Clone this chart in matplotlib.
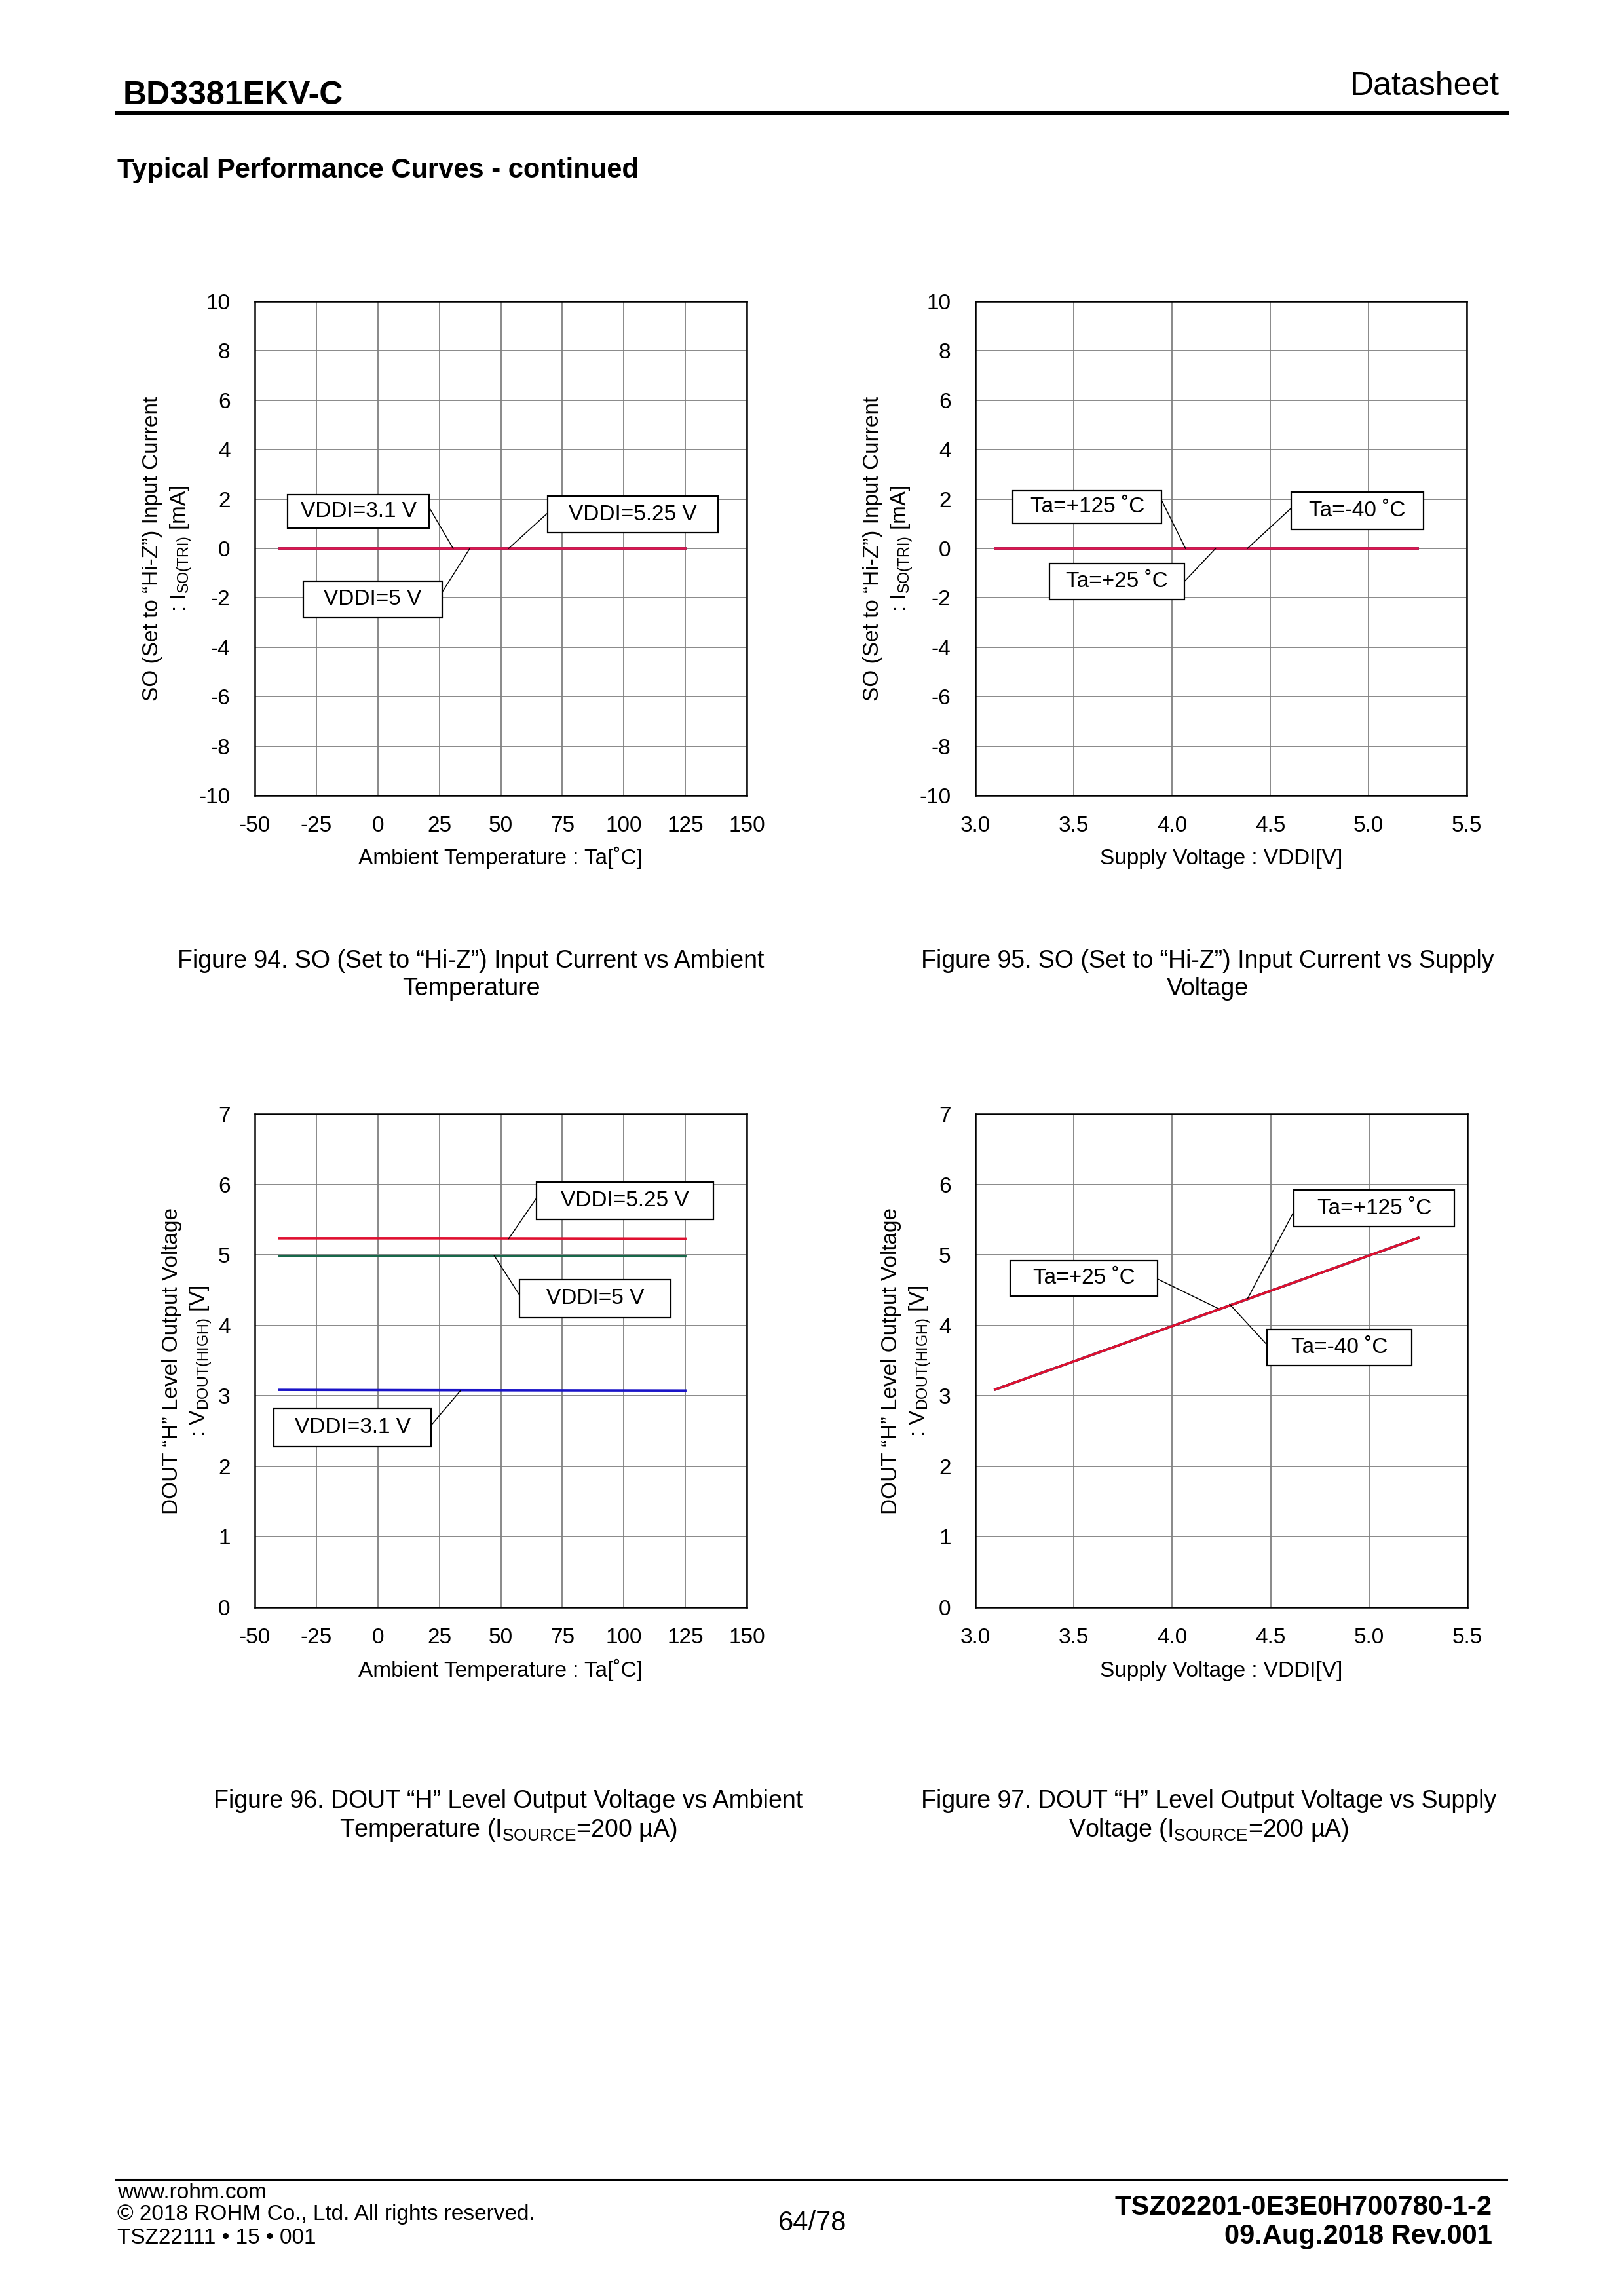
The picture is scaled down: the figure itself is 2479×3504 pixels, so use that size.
import matplotlib
matplotlib.use('Agg')
import matplotlib.pyplot as plt
from matplotlib.patches import Rectangle
from matplotlib.lines import Line2D
from matplotlib.ticker import FormatStrFormatter

plt.rcParams['font.family'] = ['Liberation Sans', 'DejaVu Sans']
plt.rcParams['axes.unicode_minus'] = False

W, H = 2479, 3504

# Figure 94: SO input current vs ambient temperature
ta = [-40, 25, 125]
iso_ta_31 = [0.0, 0.0, 0.0]
iso_ta_50 = [0.0, 0.0, 0.0]
iso_ta_525 = [0.0, 0.0, 0.0]

# Figure 95: SO input current vs supply voltage
vddi = [3.1, 3.5, 4.0, 4.5, 5.0, 5.25]
iso_v_m40 = [0.0, 0.0, 0.0, 0.0, 0.0, 0.0]
iso_v_25 = [0.0, 0.0, 0.0, 0.0, 0.0, 0.0]
iso_v_125 = [0.0, 0.0, 0.0, 0.0, 0.0, 0.0]

# Figure 96: DOUT "H" output voltage vs ambient temperature
vout_ta_31 = [3.085, 3.080, 3.075]
vout_ta_50 = [4.985, 4.985, 4.980]
vout_ta_525 = [5.235, 5.235, 5.230]

# Figure 97: DOUT "H" output voltage vs supply voltage
vout_v_m40 = [3.09, 3.49, 3.99, 4.49, 4.99, 5.24]
vout_v_25 = [3.09, 3.49, 3.99, 4.49, 4.99, 5.24]
vout_v_125 = [3.09, 3.49, 3.99, 4.49, 4.99, 5.24]

ta_ticks = [-50, -25, 0, 25, 50, 75, 100, 125, 150]
v_ticks = [3.0, 3.5, 4.0, 4.5, 5.0, 5.5]

RED = '#e01030'
PINK = '#e3134f'
GREEN = '#17684a'
BLUE = '#1a14c8'

fig = plt.figure(figsize=(W / 100, H / 100), dpi=100)


def fy(y):
    return 1 - y / H


def put(x, y, s, **kw):
    fig.text(x / W, fy(y), s, **kw)


def make_ax(x0, y0, x1, y1):
    ax = fig.add_axes([x0 / W, 1 - y1 / H, (x1 - x0) / W, (y1 - y0) / H])
    ax.grid(True, color='#808080', lw=1.3)
    ax.set_axisbelow(True)
    for s in ax.spines.values():
        s.set_linewidth(1.8)
        s.set_color('black')
    ax.tick_params(length=0, labelsize=24)
    ax.tick_params(axis='y', pad=27)
    ax.tick_params(axis='x', pad=22)
    return ax


def box(ax, label, x0, x1, y0, y1, leader):
    ax.add_patch(Rectangle((x0, y0), x1 - x0, y1 - y0, fc='white', ec='black', lw=1.6, zorder=5))
    ax.text((x0 + x1) / 2, (y0 + y1) / 2, label, ha='center', va='center', fontsize=24, zorder=6)
    (lx0, ly0), (lx1, ly1) = leader
    ax.plot([lx0, lx1], [ly0, ly1], color='black', lw=1.1, zorder=4)


# ---- header ----
put(188, 159, 'BD3381EKV-C', fontsize=36, fontweight='bold', va='baseline')
put(2289, 145, 'Datasheet', fontsize=36, ha='right', va='baseline')
fig.add_artist(Line2D([177 / W, 2300 / W], [fy(172)] * 2, lw=3.6, color='black'))
put(179, 271, 'Typical Performance Curves - continued', fontsize=30, fontweight='bold', va='baseline')

# ---- Figure 94 ----
ax1 = make_ax(389, 460, 1140, 1214)
ax1.plot(ta, iso_ta_31, color=BLUE, lw=2.6)
ax1.plot(ta, iso_ta_50, color=GREEN, lw=2.6)
ax1.plot(ta, iso_ta_525, color=PINK, lw=2.6)
ax1.set_xlim(-50, 150)
ax1.set_ylim(-10, 10)
ax1.set_xticks(ta_ticks)
ax1.set_yticks(range(-10, 11, 2))
box(ax1, 'VDDI=3.1 V', -36.6, 20.8, 0.82, 2.18, [(20.8, 1.67), (30.6, 0)])
box(ax1, 'VDDI=5.25 V', 69.0, 138.3, 0.63, 2.12, [(69.0, 1.43), (53.2, 0)])
box(ax1, 'VDDI=5 V', -30.3, 26.1, -2.78, -1.32, [(26.1, -1.78), (37.4, 0)])

# ---- Figure 95 ----
ax2 = make_ax(1489, 460, 2239, 1214)
ax2.plot(vddi, iso_v_m40, color=BLUE, lw=2.6)
ax2.plot(vddi, iso_v_25, color=GREEN, lw=2.6)
ax2.plot(vddi, iso_v_125, color=PINK, lw=2.6)
ax2.set_xlim(3.0, 5.5)
ax2.set_ylim(-10, 10)
ax2.set_xticks(v_ticks)
ax2.xaxis.set_major_formatter(FormatStrFormatter('%.1f'))
ax2.set_yticks(range(-10, 11, 2))
box(ax2, 'Ta=+125 ˚C', 3.191, 3.948, 1.01, 2.34, [(3.948, 1.94), (4.069, 0)])
box(ax2, 'Ta=-40 ˚C', 4.605, 5.281, 0.78, 2.27, [(4.605, 1.62), (4.384, 0)])
box(ax2, 'Ta=+25 ˚C', 3.378, 4.063, -2.06, -0.61, [(4.063, -1.34), (4.222, 0)])

# ---- Figure 96 ----
ax3 = make_ax(389, 1700, 1140, 2453)
ax3.plot(ta, vout_ta_31, color=BLUE, lw=2.6)
ax3.plot(ta, vout_ta_50, color=GREEN, lw=2.6)
ax3.plot(ta, vout_ta_525, color=RED, lw=2.6)
ax3.set_xlim(-50, 150)
ax3.set_ylim(0, 7)
ax3.set_xticks(ta_ticks)
ax3.set_yticks(range(0, 8))
box(ax3, 'VDDI=5.25 V', 64.6, 136.4, 5.50, 6.03, [(64.6, 5.81), (53.2, 5.23)])
box(ax3, 'VDDI=5 V', 57.6, 119.1, 4.11, 4.65, [(57.6, 4.43), (47.3, 4.99)])
box(ax3, 'VDDI=3.1 V', -42.2, 21.6, 2.28, 2.82, [(21.6, 2.58), (33.5, 3.07)])

# ---- Figure 97 ----
ax4 = make_ax(1489, 1700, 2240, 2453)
ax4.plot(vddi, vout_v_m40, color=BLUE, lw=2.6)
ax4.plot(vddi, vout_v_25, color=GREEN, lw=2.6)
ax4.plot(vddi, vout_v_125, color=RED, lw=2.6)
ax4.set_xlim(3.0, 5.5)
ax4.set_ylim(0, 7)
ax4.set_xticks(v_ticks)
ax4.xaxis.set_major_formatter(FormatStrFormatter('%.1f'))
ax4.set_yticks(range(0, 8))
box(ax4, 'Ta=+125 ˚C', 4.619, 5.434, 5.40, 5.92, [(4.619, 5.62), (4.383, 4.38)])
box(ax4, 'Ta=+25 ˚C', 3.178, 3.924, 4.42, 4.92, [(3.924, 4.66), (4.233, 4.24)])
box(ax4, 'Ta=-40 ˚C', 4.483, 5.218, 3.43, 3.94, [(4.483, 3.72), (4.292, 4.30)])

# ---- axis labels ----
so_label = 'SO (Set to “Hi-Z”) Input Current'
so_unit = r': $\mathregular{I_{SO(TRI)}}$ [mA]'
dout_label = 'DOUT “H” Level Output Voltage'
dout_unit = r': $\mathregular{V_{DOUT(HIGH)}}$ [V]'
lab = dict(fontsize=24, rotation=90, ha='center', va='center')
put(233, 837, so_label, **lab)
put(277, 837, so_unit, **lab)
put(1333, 837, so_label, **lab)
put(1377, 837, so_unit, **lab)
put(262, 2077, dout_label, **lab)
put(307, 2077, dout_unit, **lab)
put(1360, 2077, dout_label, **lab)
put(1405, 2077, dout_unit, **lab)

put(764, 1319, 'Ambient Temperature : Ta[˚C]', fontsize=24, ha='center', va='baseline')
put(1864, 1319, 'Supply Voltage : VDDI[V]', fontsize=24, ha='center', va='baseline')
put(764, 2559, 'Ambient Temperature : Ta[˚C]', fontsize=24, ha='center', va='baseline')
put(1864, 2559, 'Supply Voltage : VDDI[V]', fontsize=24, ha='center', va='baseline')

# ---- captions ----
cap = dict(fontsize=27, ha='center', va='baseline')
put(719, 1477, 'Figure 94. SO (Set to “Hi-Z”) Input Current vs Ambient', **cap)
put(719, 1519, 'Temperature', **cap)
put(1843, 1477, 'Figure 95. SO (Set to “Hi-Z”) Input Current vs Supply', **cap)
put(1843, 1519, 'Voltage', **cap)
put(776, 2759, 'Figure 96. DOUT “H” Level Output Voltage vs Ambient', **cap)
put(776, 2803, r'Temperature ($\mathregular{I_{SOURCE}}$=200 µA)', **cap)
put(1845, 2759, 'Figure 97. DOUT “H” Level Output Voltage vs Supply', **cap)
put(1845, 2803, r'Voltage ($\mathregular{I_{SOURCE}}$=200 µA)', **cap)

# ---- footer ----
fig.add_artist(Line2D([177 / W, 2300 / W], [fy(3326)] * 2, lw=2.2, color='black'))
put(179, 3355, 'www.rohm.com', fontsize=24, va='baseline')
put(179, 3388, '© 2018 ROHM Co., Ltd. All rights reserved.', fontsize=24, va='baseline')
put(179, 3424, 'TSZ22111 • 15 • 001', fontsize=24, va='baseline')
put(1240, 3404, '64/78', fontsize=30, ha='center', va='baseline')
put(2278, 3380, 'TSZ02201-0E3E0H700780-1-2', fontsize=30, fontweight='bold', ha='right', va='baseline')
put(2278, 3424, '09.Aug.2018 Rev.001', fontsize=30, fontweight='bold', ha='right', va='baseline')

fig.savefig('out.png', dpi=100, facecolor='white')
